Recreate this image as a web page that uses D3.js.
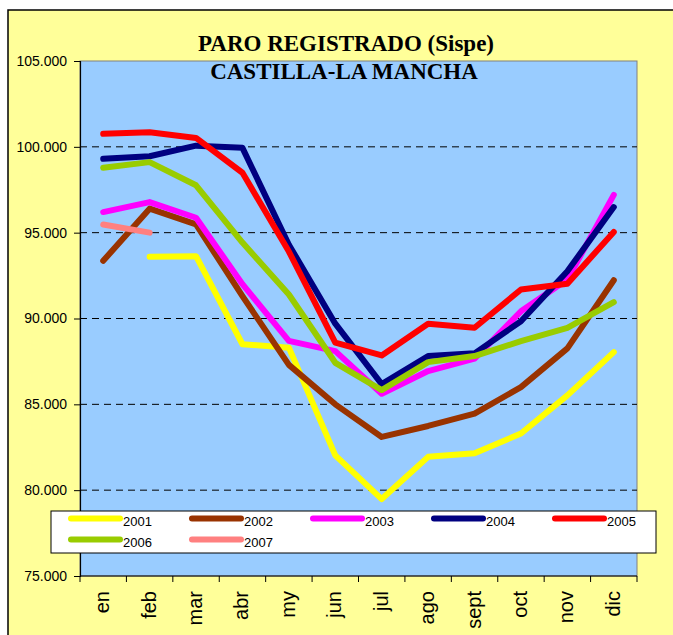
<!DOCTYPE html>
<html lang="es">
<head>
<meta charset="UTF-8">
<title>Paro registrado</title>
<script src="https://d3js.org/d3.v7.min.js"></script>
<style>
  body { margin: 0; background: #fff; }
</style>
</head>
<body>
<div id="chart"></div>
<script>
// months and yearly series
const months = ["en", "feb", "mar", "abr", "my", "jun", "jul", "ago", "sept", "oct", "nov", "dic"];
const s2001 = [null, 93600, 93630, 88500, 88300, 82030, 79480, 81940, 82150, 83300, 85520, 88040];
const s2002 = [93360, 96400, 95480, 91300, 87300, 85000, 83100, 83740, 84460, 86000, 88260, 92230];
const s2003 = [96200, 96780, 95870, 92000, 88700, 88100, 85620, 86940, 87660, 90420, 92270, 97200];
const s2004 = [99300, 99450, 100070, 99940, 94300, 89700, 86180, 87810, 87970, 89840, 92750, 96490];
const s2005 = [100760, 100850, 100520, 98490, 93900, 88590, 87850, 89690, 89460, 91690, 92030, 95040];
const s2006 = [98780, 99110, 97760, 94420, 91400, 87420, 85830, 87460, 87810, 88680, 89460, 90950];
const s2007 = [95480, 95000];
const years = ["2001", "2002", "2003", "2004", "2005", "2006", "2007"];
const colors = ["#FFFF00", "#993300", "#FF00FF", "#000080", "#FF0000", "#99CC00", "#FF8080"];
const yTicks = [75000, 80000, 85000, 90000, 95000, 100000, 105000];

const series = [s2001, s2002, s2003, s2004, s2005, s2006, s2007];

const W = 673, H = 635;
const plot = {left: 80, right: 637, top: 61, bottom: 576};

const svg = d3.select("#chart").append("svg")
    .attr("width", W)
    .attr("height", H);

// chart area (yellow, border runs off the picture right/bottom)
svg.append("rect")
    .attr("x", 8).attr("y", 10)
    .attr("width", 700).attr("height", 700)
    .attr("fill", "#FFFF99")
    .attr("stroke", "#000")
    .attr("stroke-width", 1.5);

const x = d3.scaleBand().domain(months).range([plot.left, plot.right]);
const y = d3.scaleLinear().domain([75000, 105000]).range([plot.bottom, plot.top]);

// plot area
svg.append("rect")
    .attr("x", plot.left).attr("y", plot.top)
    .attr("width", plot.right - plot.left).attr("height", plot.bottom - plot.top)
    .attr("fill", "#99CCFF")
    .attr("stroke", "#808080")
    .attr("stroke-width", 1);

// dashed gridlines
svg.append("g").selectAll("line")
    .data(yTicks.filter(d => d > 75000 && d < 105000))
    .join("line")
    .attr("x1", plot.left).attr("x2", plot.right)
    .attr("y1", d => y(d)).attr("y2", d => y(d))
    .attr("stroke", "#000")
    .attr("stroke-width", 1)
    .attr("stroke-dasharray", "7,5");

// y axis
const fmt = d => (d / 1000) + ".000";
const yAxis = svg.append("g")
    .attr("transform", `translate(${plot.left},0)`)
    .call(d3.axisLeft(y).tickValues(yTicks).tickFormat(fmt).tickSize(6).tickPadding(7));
yAxis.select(".domain").attr("stroke", "#000").attr("stroke-width", 1.2);
yAxis.selectAll(".tick line").attr("stroke", "#000");
yAxis.selectAll("text")
    .attr("font-family", "Arial, 'Liberation Sans', sans-serif")
    .attr("font-size", 14)
    .attr("fill", "#000");

// x axis: ticks at category boundaries, labels rotated
const xAxisG = svg.append("g").attr("transform", `translate(0,${plot.bottom})`);
xAxisG.append("line")
    .attr("x1", plot.left).attr("x2", plot.right)
    .attr("stroke", "#000").attr("stroke-width", 1.2);
const bounds = months.map(m => x(m)).concat([x(months[months.length - 1]) + x.bandwidth()]);
xAxisG.selectAll(".xt")
    .data(bounds)
    .join("line")
    .attr("class", "xt")
    .attr("x1", d => d).attr("x2", d => d)
    .attr("y1", 0).attr("y2", 6)
    .attr("stroke", "#000");
xAxisG.selectAll(".xl")
    .data(months)
    .join("text")
    .attr("class", "xl")
    .attr("transform", d => `translate(${x(d) + x.bandwidth() / 2 + 6},15) rotate(-90)`)
    .attr("text-anchor", "end")
    .attr("font-family", "Arial, 'Liberation Sans', sans-serif")
    .attr("font-size", 20)
    .text(d => d);

// lines
const line = d3.line()
    .defined(d => d.v != null)
    .x(d => x(d.m) + x.bandwidth() / 2)
    .y(d => y(d.v));

svg.append("g").selectAll("path")
    .data(series)
    .join("path")
    .attr("d", s => line(s.map((v, i) => ({m: months[i], v: v}))))
    .attr("fill", "none")
    .attr("stroke", (s, i) => colors[i])
    .attr("stroke-width", 6)
    .attr("stroke-linecap", "round")
    .attr("stroke-linejoin", "round");

// titles
svg.append("text")
    .attr("x", 346).attr("y", 51)
    .attr("text-anchor", "middle")
    .attr("font-family", "'Times New Roman', 'Liberation Serif', serif")
    .attr("font-weight", "bold")
    .attr("font-size", 23)
    .text("PARO REGISTRADO (Sispe)");
svg.append("text")
    .attr("x", 344).attr("y", 79)
    .attr("text-anchor", "middle")
    .attr("font-family", "'Times New Roman', 'Liberation Serif', serif")
    .attr("font-weight", "bold")
    .attr("font-size", 23)
    .text("CASTILLA-LA MANCHA");

// legend
const legend = svg.append("g");
legend.append("rect")
    .attr("x", 51).attr("y", 511)
    .attr("width", 605).attr("height", 42)
    .attr("fill", "#fff")
    .attr("stroke", "#000")
    .attr("stroke-width", 1);
const items = legend.selectAll("g")
    .data(years)
    .join("g")
    .attr("transform", (d, i) => `translate(${71 + (i % 5) * 121},${518.5 + Math.floor(i / 5) * 21})`);
items.append("line")
    .attr("x1", 0).attr("x2", 49)
    .attr("stroke", (d, i) => colors[i])
    .attr("stroke-width", 6)
    .attr("stroke-linecap", "round");
items.append("text")
    .attr("x", 52).attr("y", 7)
    .attr("font-family", "Arial, 'Liberation Sans', sans-serif")
    .attr("font-size", 13)
    .text(d => d);
</script>
</body>
</html>
